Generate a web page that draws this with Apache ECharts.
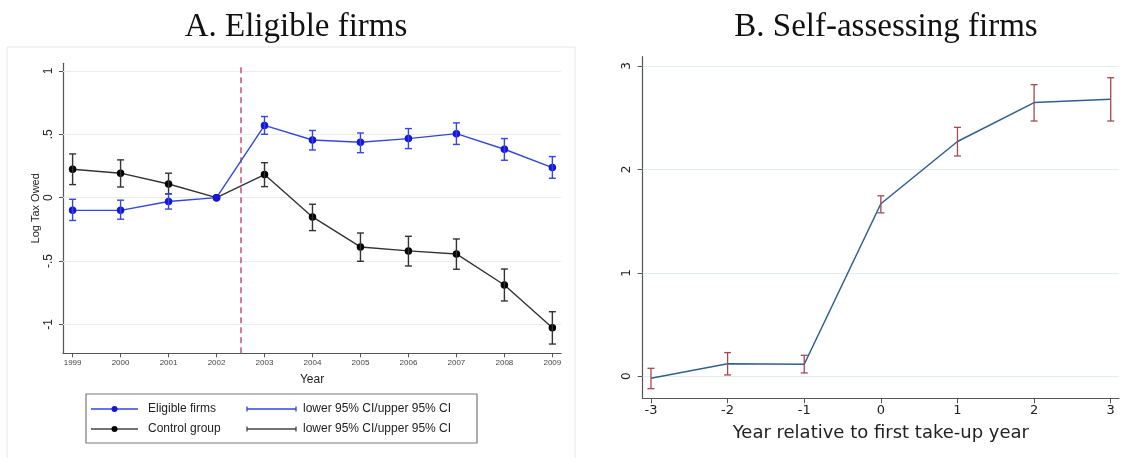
<!DOCTYPE html>
<html>
<head>
<meta charset="utf-8">
<script src="https://cdn.jsdelivr.net/npm/echarts@6/dist/echarts.min.js"></script>
<style>
html,body{margin:0;padding:0;background:#fff;}
#chart{width:1145px;height:458px;}
</style>
</head>
<body>
<div id="chart"></div>
<script>
// ---------- Panel A data ----------
const yearsA = [1999, 2000, 2001, 2002, 2003, 2004, 2005, 2006, 2007, 2008, 2009];
const eligible = [-0.10, -0.10, -0.03, 0, 0.57, 0.455, 0.437, 0.466, 0.505, 0.382, 0.237];
const eligibleLo = [-0.18, -0.17, -0.09, null, 0.50, 0.376, 0.355, 0.387, 0.42, 0.295, 0.153];
const eligibleHi = [-0.013, -0.02, 0.03, null, 0.64, 0.53, 0.51, 0.545, 0.59, 0.466, 0.324];
const control = [0.224, 0.193, 0.108, 0, 0.182, -0.152, -0.389, -0.42, -0.444, -0.689, -1.026];
const controlLo = [0.103, 0.084, 0.03, null, 0.087, -0.26, -0.502, -0.539, -0.565, -0.815, -1.155];
const controlHi = [0.345, 0.298, 0.193, null, 0.276, -0.052, -0.279, -0.305, -0.326, -0.563, -0.90];
const yTicksA = [-1, -0.5, 0, 0.5, 1];
const yTickLabelsA = ['-1', '-.5', '0', '.5', '1'];
const reformLine = 2002.5;

// ---------- Panel B data ----------
const relYears = [-3, -2, -1, 0, 1, 2, 3];
const selfAssess = [-0.02, 0.122, 0.116, 1.668, 2.27, 2.646, 2.678];
const selfLo = [-0.12, 0.013, 0.032, 1.58, 2.13, 2.468, 2.468];
const selfHi = [0.077, 0.229, 0.203, 1.745, 2.407, 2.82, 2.887];
const yTicksB = [0, 1, 2, 3];

const sans = 'Liberation Sans, Arial, Helvetica, sans-serif';
const djv = 'DejaVu Sans, sans-serif';

function pairs(xs, ys) { return xs.map((x, i) => [x, ys[i]]); }
function ciData(xs, lo, hi) {
  return xs.map((x, i) => [x, lo[i], hi[i]]).filter(d => d[1] != null);
}
function errRender(color, capW, lw) {
  return function (params, api) {
    const x = api.value(0), lo = api.value(1), hi = api.value(2);
    const p1 = api.coord([x, lo]), p2 = api.coord([x, hi]);
    const st = { stroke: color, lineWidth: lw };
    return {
      type: 'group',
      children: [
        { type: 'line', shape: { x1: p1[0], y1: p1[1], x2: p2[0], y2: p2[1] }, style: st },
        { type: 'line', shape: { x1: p1[0] - capW / 2, y1: p1[1], x2: p1[0] + capW / 2, y2: p1[1] }, style: st },
        { type: 'line', shape: { x1: p2[0] - capW / 2, y1: p2[1], x2: p2[0] + capW / 2, y2: p2[1] }, style: st }
      ]
    };
  };
}

const blueLine = '#3346e0';
const blueMark = '#1515dc';
const maroon = '#a24a4e';
const navy = '#2f5f8f';

const chart = echarts.init(document.getElementById('chart'), null, { renderer: 'canvas' });

// legend graphics (panel A)
const lgX = 86, lgY = 394;
function legendRow(y, color, mcolor, label) {
  return [
    { type: 'line', shape: { x1: 91, y1: y, x2: 138, y2: y }, style: { stroke: color, lineWidth: 1.3 } },
    { type: 'circle', shape: { cx: 114.5, cy: y, r: 3 }, style: { fill: mcolor } },
    { type: 'text', x: 148, y: y, style: { text: label, font: '12px ' + sans, fill: '#222', verticalAlign: 'middle' } },
    { type: 'line', shape: { x1: 247, y1: y, x2: 296, y2: y }, style: { stroke: color, lineWidth: 1.3 } },
    { type: 'line', shape: { x1: 247, y1: y - 2.5, x2: 247, y2: y + 2.5 }, style: { stroke: color, lineWidth: 1.3 } },
    { type: 'line', shape: { x1: 296, y1: y - 2.5, x2: 296, y2: y + 2.5 }, style: { stroke: color, lineWidth: 1.3 } },
    { type: 'text', x: 303, y: y, style: { text: 'lower 95% CI/upper 95% CI', font: '12px ' + sans, fill: '#222', verticalAlign: 'middle' } }
  ];
}

const option = {
  backgroundColor: '#fff',
  animation: false,
  title: [
    { text: 'A. Eligible firms', left: 291, top: 6, textAlign: 'center',
      textStyle: { fontFamily: 'Liberation Serif, serif', fontSize: 33, fontWeight: 'normal', color: '#111' } },
    { text: 'B. Self-assessing firms', left: 881, top: 6, textAlign: 'center',
      textStyle: { fontFamily: 'Liberation Serif, serif', fontSize: 33, fontWeight: 'normal', color: '#111' } }
  ],
  graphic: [
    { type: 'rect', z: -10, shape: { x: 7, y: 47, width: 568, height: 420 }, style: { fill: '#fff', stroke: '#e6e6e6', lineWidth: 1 } },
    { type: 'rect', shape: { x: lgX, y: lgY, width: 391, height: 49 }, style: { fill: '#fff', stroke: '#7a7a7a', lineWidth: 1.2 } },
    ...legendRow(409, blueLine, blueMark, 'Eligible firms'),
    ...legendRow(429, '#444', '#000', 'Control group')
  ],
  grid: [
    { left: 63, top: 63.3, width: 498, height: 290 },
    { left: 642.7, top: 56.7, width: 476.3, height: 341.6 }
  ],
  xAxis: [
    {
      gridIndex: 0, type: 'value', min: 1998.8, max: 2009.18,
      name: 'Year', nameLocation: 'middle', nameGap: 20,
      nameTextStyle: { fontFamily: sans, fontSize: 12, color: '#222' },
      axisLine: { show: true, onZero: false, lineStyle: { color: '#555', width: 1.2 } },
      axisTick: { show: true, length: 4, customValues: yearsA, lineStyle: { color: '#555' } },
      axisLabel: { customValues: yearsA, fontFamily: sans, fontSize: 8, color: '#444', margin: 5, formatter: v => String(v) },
      splitLine: { show: false }
    },
    {
      gridIndex: 1, type: 'value', min: -3.108, max: 3.108,
      name: 'Year relative to first take-up year', nameLocation: 'middle', nameGap: 26,
      nameTextStyle: { fontFamily: djv, fontSize: 18, color: '#222' },
      axisLine: { show: true, onZero: false, lineStyle: { color: '#555', width: 1.2 } },
      axisTick: { show: true, length: 5, customValues: relYears, lineStyle: { color: '#555' } },
      axisLabel: { customValues: relYears, fontFamily: djv, fontSize: 13, color: '#222', margin: 6, formatter: v => String(v) },
      splitLine: { show: false }
    }
  ],
  yAxis: [
    {
      gridIndex: 0, type: 'value', min: -1.228, max: 1.06,
      name: 'Log Tax Owed', nameLocation: 'middle', nameGap: 22, nameRotate: 90,
      nameTextStyle: { fontFamily: sans, fontSize: 11, color: '#222' },
      axisLine: { show: true, onZero: false, lineStyle: { color: '#555', width: 1.2 } },
      axisTick: { show: true, length: 4, customValues: yTicksA, lineStyle: { color: '#555' } },
      axisLabel: {
        customValues: yTicksA, rotate: 90, fontFamily: sans, fontSize: 12, color: '#222', margin: 8,
        formatter: v => yTickLabelsA[yTicksA.indexOf(v)] || ''
      },
      splitLine: { show: false }
    },
    {
      gridIndex: 1, type: 'value', min: -0.213, max: 3.09,
      axisLine: { show: true, onZero: false, lineStyle: { color: '#555', width: 1.2 } },
      axisTick: { show: true, length: 5, customValues: yTicksB, lineStyle: { color: '#555' } },
      axisLabel: { customValues: yTicksB, rotate: 90, fontFamily: djv, fontSize: 12, color: '#222', margin: 10, formatter: v => String(v) },
      splitLine: { show: false }
    }
  ],
  series: [
    // gridlines + reform line for panel A
    {
      type: 'line', xAxisIndex: 0, yAxisIndex: 0, data: [], z: 1, silent: true,
      markLine: {
        z: 1, silent: true, symbol: 'none', label: { show: false }, animation: false,
        lineStyle: { color: '#ececec', width: 1, type: 'solid' },
        data: yTicksA.map(v => ({ yAxis: v })).concat([
          { xAxis: reformLine, lineStyle: { color: '#cc5a7e', width: 1.6, type: [6, 4] } }
        ])
      }
    },
    // gridlines panel B
    {
      type: 'line', xAxisIndex: 1, yAxisIndex: 1, data: [], z: 1, silent: true,
      markLine: {
        z: 1, silent: true, symbol: 'none', label: { show: false }, animation: false,
        lineStyle: { color: '#e3edf0', width: 1, type: 'solid' },
        data: yTicksB.map(v => ({ yAxis: v }))
      }
    },
    {
      name: 'Control group', type: 'line', xAxisIndex: 0, yAxisIndex: 0, z: 3,
      data: pairs(yearsA, control), symbol: 'circle', symbolSize: 7.5,
      lineStyle: { color: '#333', width: 1.4 }, itemStyle: { color: '#000' }
    },
    {
      name: 'Control CI', type: 'custom', xAxisIndex: 0, yAxisIndex: 0, z: 4,
      data: ciData(yearsA, controlLo, controlHi), encode: { x: 0, y: [1, 2] },
      renderItem: errRender('#333', 7, 1.4)
    },
    {
      name: 'Eligible firms', type: 'line', xAxisIndex: 0, yAxisIndex: 0, z: 5,
      data: pairs(yearsA, eligible), symbol: 'circle', symbolSize: 7.5,
      lineStyle: { color: blueLine, width: 1.4 }, itemStyle: { color: blueMark }
    },
    {
      name: 'Eligible CI', type: 'custom', xAxisIndex: 0, yAxisIndex: 0, z: 6,
      data: ciData(yearsA, eligibleLo, eligibleHi), encode: { x: 0, y: [1, 2] },
      renderItem: errRender(blueLine, 7, 1.4)
    },
    {
      name: 'Self-assessing', type: 'line', xAxisIndex: 1, yAxisIndex: 1, z: 3,
      data: pairs(relYears, selfAssess), symbol: 'none',
      lineStyle: { color: navy, width: 1.5 }
    },
    {
      name: 'Self CI', type: 'custom', xAxisIndex: 1, yAxisIndex: 1, z: 4,
      data: ciData(relYears, selfLo, selfHi), encode: { x: 0, y: [1, 2] },
      renderItem: errRender(maroon, 7, 1.3)
    }
  ]
};
chart.setOption(option);
</script>
</body>
</html>
